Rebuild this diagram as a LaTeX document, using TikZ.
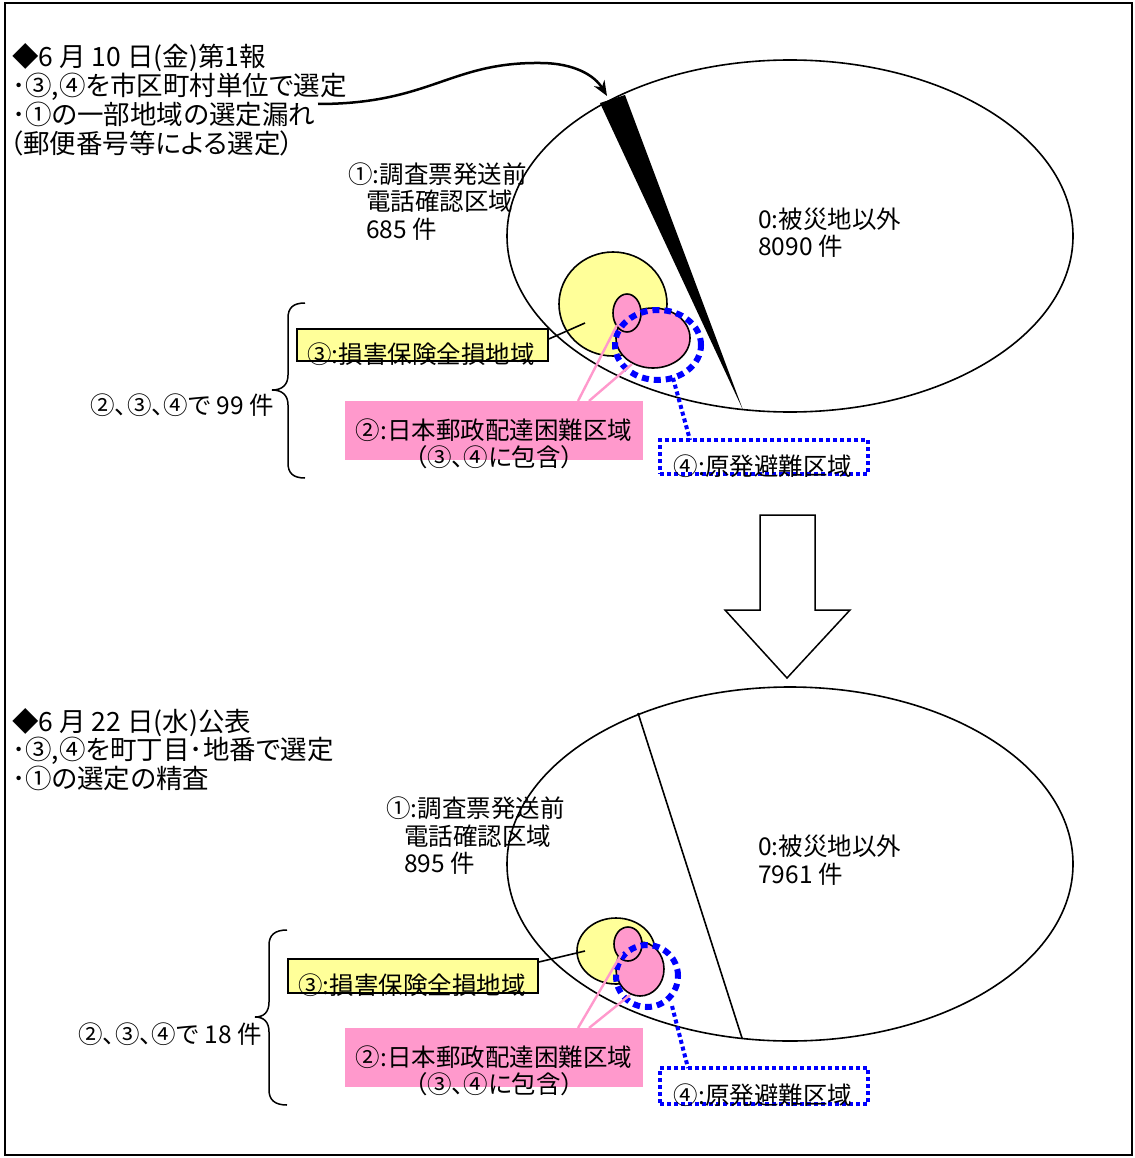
\documentclass[tikz,border=0pt]{standalone}
\usepackage{fontspec}
\setmainfont{Noto Sans CJK JP}[RawFeature=+palt]
\usetikzlibrary{arrows.meta}
\definecolor{yelfill}{HTML}{FFFF99}
\definecolor{pinkfill}{HTML}{FF99CC}
\begin{document}
\begin{tikzpicture}[x=1pt,y=-1pt,
  every node/.style={inner sep=0pt, font=\fontsize{24.5}{27}\selectfont},
  txt/.style={anchor=base west},
  head/.style={anchor=base west, font=\fontsize{26.5}{29}\selectfont},
  outline/.style={draw=black, line width=1.6pt},
  yel/.style={outline, fill=yelfill},
  pnk/.style={outline, fill=pinkfill},
  bluering/.style={draw=blue, line width=6pt, dash pattern=on 7pt off 5pt},
  bluedot/.style={draw=blue, line width=4pt, dash pattern=on 4pt off 3pt},
  pinkline/.style={draw=pinkfill, line width=2.4pt},
  ybox/.style={draw=black, line width=1.6pt, fill=yelfill},
  pbox/.style={fill=pinkfill},
  bbox/.style={bluedot}
]
\useasboundingbox (0,0) rectangle (1134,1158);
\draw[line width=2.5pt] (5,3) rectangle (1132,1155);

% ================= TOP =================
\node[head] (h11) at (12,66.5) {◆6 月 10 日(金)第1報};
\node[head] (h12) at (12,95.5) {･③,④を市区町村単位で選定};
\node[head] (h13) at (12,124.5) {･①の一部地域の選定漏れ};
\node[head] (h14) at (10,153.5) {（郵便番号等による選定）};

\draw[outline] (790,236) ellipse [x radius=283pt, y radius=176pt];
\fill (600,103) -- (625,95) -- (743,410) -- cycle;
\coordinate (wtop) at (607,96);
\coordinate (arrS) at (318,104);
\draw[line width=2.5pt, -{Stealth[length=15pt,width=12pt]}] (arrS) .. controls (430,104) and (450,62) .. (540,63) .. controls (575,63) and (595,76) .. (wtop);

\node[txt] (a1) at (348,183.5) {①:調査票発送前};
\node[txt] (a2) at (366,210.5) {電話確認区域};
\node[txt] (a3) at (366,238.5) {685 件};
\node[txt] (z1) at (758,228.5) {0:被災地以外};
\node[txt] (z2) at (758,255.5) {8090 件};

\draw[yel] (613,304) ellipse [x radius=54pt, y radius=52pt];
\draw[pnk] (653,338) ellipse [x radius=37pt, y radius=30pt];
\draw[pnk] (627,313) ellipse [x radius=14pt, y radius=19pt];
\draw[bluering] (658,345) ellipse [x radius=43pt, y radius=35pt];

\coordinate (yc1) at (585,323);
\coordinate (sp1) at (617,325);
\coordinate (bp1) at (632,364);
\coordinate (br1) at (673,378);

\node[ybox, minimum width=251pt, minimum height=32pt] (yb1) at (422.5,345) {};
\draw[line width=1.6pt] (yb1.east |- 0,339) -- (yc1);
\node (yt1) at (421,354) {③:損害保険全損地域};

\node[pbox, minimum width=298pt, minimum height=59pt] (pb1) at (494,430.5) {};
\draw[pinkline] (578,401) -- (sp1);
\draw[pinkline] (589,401) -- (bp1);
\node[align=center] (pt1) at (494,444) {②:日本郵政配達困難区域\\（③、④に包含）};

\node[bbox, minimum width=208pt, minimum height=34pt] (bb1) at (764,457) {};
\draw[bluedot] (br1) -- (690,440);
\node (bt1) at (763,466) {④:原発避難区域};

\draw[line width=1.5pt] (305,303) .. controls (293,303) and (288,308) .. (288,318) -- (288,375) .. controls (288,385) and (282,390) .. (272,390) .. controls (282,390) and (288,395) .. (288,405) -- (288,463) .. controls (288,473) and (293,478) .. (305,478);
\node[anchor=east] (c1) at (274,405) {②、③、④で 99 件};

% ================= ARROW =================
\draw[line width=1.5pt, fill=white] (760,515) -- (815,515) -- (815,610) -- (850,610) -- (787,678) -- (725,610) -- (760,610) -- cycle;

% ================= BOTTOM =================
\node[head] (h21) at (12,731.5) {◆6 月 22 日(水)公表};
\node[head] (h22) at (12,759.5) {･③,④を町丁目･地番で選定};
\node[head] (h23) at (12,788.5) {･①の選定の精査};

\draw[outline] (790,864) ellipse [x radius=283pt, y radius=177pt];
\draw[line width=1.6pt] (638,713) -- (742,1038);

\node[txt] (b1) at (386,817.5) {①:調査票発送前};
\node[txt] (b2) at (404,845.5) {電話確認区域};
\node[txt] (b3) at (404,872.5) {895 件};
\node[txt] (w1) at (758,855.5) {0:被災地以外};
\node[txt] (w2) at (758,883.5) {7961 件};

\draw[yel] (616,951) ellipse [x radius=39pt, y radius=33pt];
\draw[pnk] (640,969) ellipse [x radius=24pt, y radius=27pt];
\draw[pnk] (628,944) ellipse [x radius=14pt, y radius=17pt];
\draw[bluering] (647,976) ellipse [x radius=31pt, y radius=31pt];

\coordinate (yc2) at (585,951);
\coordinate (sp2) at (622,953);
\coordinate (bp2) at (630,995);
\coordinate (br2) at (672,1006);

\node[ybox, minimum width=250pt, minimum height=34pt] (yb2) at (413,976) {};
\draw[line width=1.6pt] (yb2.east |- 0,962) -- (yc2);
\node (yt2) at (412,985) {③:損害保険全損地域};

\node[pbox, minimum width=298pt, minimum height=59pt] (pb2) at (494,1057.5) {};
\draw[pinkline] (578,1028) -- (sp2);
\draw[pinkline] (589,1028) -- (bp2);
\node[align=center] (pt2) at (494,1071) {②:日本郵政配達困難区域\\（③、④に包含）};

\node[bbox, minimum width=208pt, minimum height=36pt] (bb2) at (764,1086) {};
\draw[bluedot] (br2) -- (688,1068);
\node (bt2) at (763,1095) {④:原発避難区域};

\draw[line width=1.5pt] (287,930) .. controls (275,930) and (269,935) .. (269,945) -- (269,1002) .. controls (269,1012) and (264,1017) .. (255,1017) .. controls (264,1017) and (269,1022) .. (269,1032) -- (269,1090) .. controls (269,1100) and (275,1105) .. (287,1105);
\node[anchor=east] (c2) at (262,1034) {②、③、④で 18 件};
\end{tikzpicture}
\end{document}
